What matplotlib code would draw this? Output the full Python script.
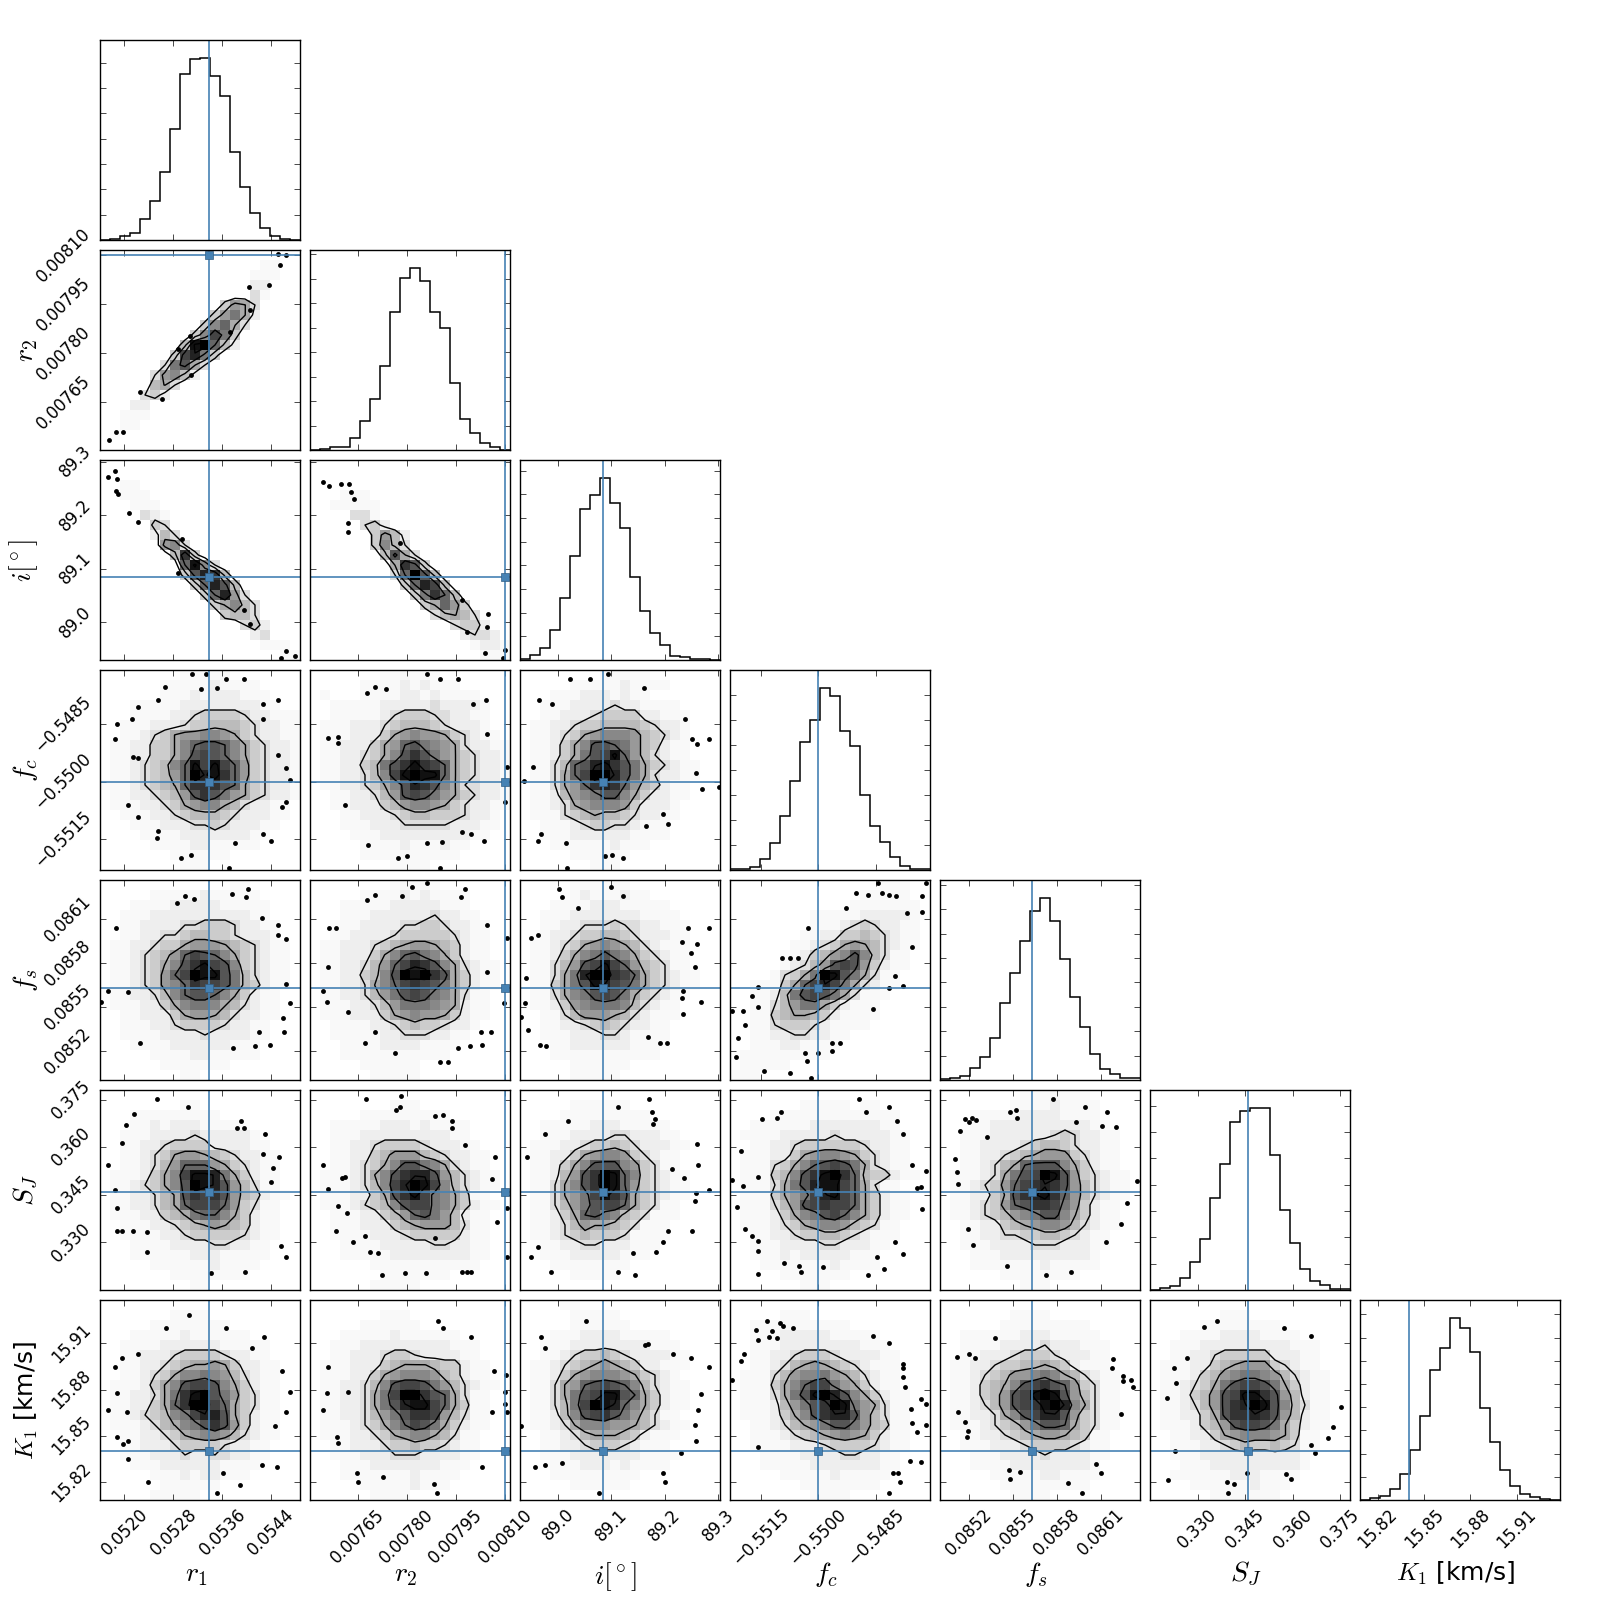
import matplotlib
matplotlib.use("Agg")
import matplotlib.pyplot as plt
import numpy as np

plt.rcParams["mathtext.fontset"] = "cm"
plt.rcParams["font.family"] = "DejaVu Sans"

labels = [r"$r_1$", r"$r_2$", r"$i[^\circ]$", r"$f_c$", r"$f_s$", r"$S_J$", r"$K_1$ [km/s]"]
label_size = [20, 20, 20, 20, 20, 20, 18]
ranges = [(0.05160, 0.05487), (0.007505, 0.008115), (88.929, 89.3035), (-0.5523, -0.5471),
          (0.08500, 0.08637), (0.315, 0.378), (15.8086, 15.938)]
truths = [0.05339, 0.00810, 89.084, -0.5500, 0.08563, 0.3459, 15.84]

tick_vals = [[0.0520, 0.0528, 0.0536, 0.0544],
             [0.00765, 0.00780, 0.00795, 0.00810],
             [89.0, 89.1, 89.2, 89.3],
             [-0.5515, -0.5500, -0.5485],
             [0.0852, 0.0855, 0.0858, 0.0861],
             [0.330, 0.345, 0.360, 0.375],
             [15.82, 15.85, 15.88, 15.91]]
tick_text = [["0.0520", "0.0528", "0.0536", "0.0544"],
             ["0.00765", "0.00780", "0.00795", "0.00810"],
             ["89.0", "89.1", "89.2", "89.3"],
             ["\u22120.5515", "\u22120.5500", "\u22120.5485"],
             ["0.0852", "0.0855", "0.0858", "0.0861"],
             ["0.330", "0.345", "0.360", "0.375"],
             ["15.82", "15.85", "15.88", "15.91"]]

# 1d histograms, 20 bins, height in percent of the panel
hist_r1 = [.2, .3, 1.8, 3.3, 10.3, 19.5, 33.8, 55.5, 83.2, 90.5, 91, 81.8, 72.2, 43.8, 26.3, 13.3, 6, 2, .7, .2]
hist_r2 = [0, .3, 1.3, 1.7, 6, 14.5, 25.5, 42, 69, 86, 91, 84.5, 69, 61, 33.7, 15.5, 8.7, 3.7, 1.3, 0]
hist_i = [.3, 2.3, 6.2, 14.8, 31.2, 52.2, 75.7, 82.7, 91, 78.3, 66, 41.5, 24.5, 13.5, 7.5, 2.2, 1.3, .5, .3, .2]
hist_fc = [.3, .7, 1.7, 5.3, 13.7, 27, 44.7, 64.2, 74.8, 91, 87.2, 69.5, 62.2, 37.7, 22, 14, 6.7, 2.2, .7, .3]
hist_fs = [.3, 1, 2, 6.2, 11.7, 20.8, 38.7, 53.5, 69.5, 84.7, 91, 79.3, 60.3, 41.3, 26.7, 13, 5.7, 2.8, 1, .8]
hist_sj = [0, .8, 1.8, 6.2, 14, 25.3, 45.8, 63, 83.8, 89.3, 91, 91, 67.5, 40, 23.3, 10.7, 4.5, 2.3, .3, .3]
hist_k1 = [.2, .8, 2.2, 5.3, 13, 24.8, 41.8, 64.8, 76.2, 91, 86, 74, 45.8, 29.2, 14.8, 7.2, 2.8, 1.3, .3, .2]
hists = [hist_r1, hist_r2, hist_i, hist_fc, hist_fs, hist_sj, hist_k1]
hist_step = [12.67, 12.25, 11.83, 12.5, 12.2, 13.17, 11.6]

# 2d histograms: 20 rows top to bottom, 20 columns. . is empty, "," is barely there, else hex shade
grid_r2_r1 = ["..... ..... ..... .....", "..... ..... ..... .,,..", "..... ..... ..... ,,,..",
              "..... ..... ..... 11...", "..... ..... ..... 2,...", "..... ..... ..365 2....",
              "..... ..... .3685 1....", "..... ..... 37952 .....", "..... ....3 7b83. .....",
              "..... ...4e f9410 .....", "..... ..3bd 83... .....", "..... .28a5 2.... .....",
              "..... 26741 ..... .....", "..... 452.. ..... .....", "....2 31... ..... .....",
              "...11 ..... ..... .....", "..,,, ..... ..... .....", "..,,. ..... ..... .....",
              ".,... ..... ..... .....", "..... ..... ..... ....."]
grid_i_r1 = ["..... ..... ..... .....", "..... ..... ..... .....", "..,,. ..... ..... .....",
             "..,,, ..... ..... .....", "...,, ,.... ..... .....", "....2 1,... ..... .....",
             "..... 32... ..... .....", "..... 142.. ..... .....", "..... .672. ..... .....",
             "..... ..4c3 ..... .....", "..... ...9e 72... .....", "..... ...3a dc4.. .....",
             "..... ....3 9da4. .....", "..... ..... 39d62 .....", "..... ..... .3574 2....",
             "..... ..... ..344 2....", "..... ..... ....2 31...", "..... ..... ..... 12...",
             "..... ..... ..... .,,,.", "..... ..... ..... ...,,"]
grid_i_r2 = ["..... ..... ..... .....", "..... ..... ..... .....", "..... ..... ..... .....",
             "...,, ,.... ..... .....", "..,,, ,,... ..... .....", "....2 2,... ..... .....",
             "..... 231.. ..... .....", "..... .3641 ..... .....", "..... .3742 ..... .....",
             "..... ..4a5 2.... .....", "..... ...5c a3... .....", "..... ...29 fa4.. .....",
             "..... ....3 9db4. .....", "..... ..... 38c94 .....", "..... ..... .3596 3....",
             "..... ..... ..245 42...", "..... ..... ....2 331..", "..... ..... ..... 1221.",
             "..... ..... ..... .,11,", "..... ..... ..... ..,,,"]
grid_fc_r1 = ["..... ...,, ,,,.. .....", "..... .,,,, ,1,,, ,....", "..... .,,,1 ,111, ,,...",
              "...,, ,,,11 11111 1,,..", "...,, ,,112 33332 11,,,", "..,,, 11123 34443 211,,",
              "..,,1 23566 77653 211,,", ".,,11 33579 aa975 3211,", ".,,11 3357a ba975 3211,",
              ".,,12 3479e beb96 3211,", ".,,12 3469f dec96 3211,", ",,,12 3459c cca95 3211,",
              ".,,11 2346a ca865 3211,", ".,,,1 12356 77542 11,,.", "..,,, 11234 44321 11,,.",
              "...,, ,1112 23211 1,,..", "...., ,,,11 11111 ,,...", "..... ,,,,1 1,,,, ,....",
              "..... ..,,, ,,,.. .....", "..... ...,, ,.... ....."]
grid_fc_r2 = ["..... ..,,, ,,,.. .....", "..... ,,,,1 ,1,,, .....", ".,... ,,,,1 1,1,, ,,...",
              "..,,, ,,111 11211 11,..", "..,,, ,,123 33221 1,,..", ".,,,1 11234 44321 11,..",
              ".,,,1 11356 76653 21,,.", ".,,11 13569 a8765 211,,", ".,,11 2357a ca865 3211,",
              ".,,11 348ac ecb95 3211,", ".,,11 247be fee95 3211,", ".,,11 2357a dca75 2211,",
              "..,,1 1246a ba865 3211,", "..,,1 11346 77653 211,,", "...,, 11123 44333 211,.",
              "...,, ,1112 22221 11,,.", "...., ,,111 11111 1,,..", "..... ,,,,1 ,,,1, ,....",
              "..... ,,,,, ,,,,, .....", "..... ...,, ,,... ....."]
grid_fc_i = ["..... ...,, ,,,.. .....", "..... ,,,,, 1,,,, .....", "...,, ,111, 1,,.. .....",
             "..,,, 11112 11,,, ,....", "..,,1 11233 3311, ,,...", ".,,11 23344 44321 1,...",
             ".,,12 35677 76432 1,...", ".,,13 57aa9 86431 ,,...", ".,,13 58abe 96421 ,,...",
             ".,,24 9adec a8532 1,,..", ".,,25 9bffd a8521 1,,..", ".,,25 69cdc 96431 ,,...",
             ".,,14 678aa 75311 ,,...", ".,,12 56777 63111 ,....", ".,,,2 34544 3211, ,....",
             "..,,, 12332 21,,, .....", "..,,, 11111 1,,,, .....", "...,, ,,,,1 ,,,.. .....",
             "..... ,,,,, ,.... .....", "..... ..,,, ..... ....."]
grid_fs_r1 = ["..... ..... ...,, .....", "..... ,,,,, 1,,,, ,....", "...,, ,,111 11,,, ,,...",
              "..,,, 11111 11111 ,,...", "..,,1 11122 33321 1,,..", "..,,1 12234 43321 11,..",
              ".,,11 23356 66543 21,,.", ".,,12 3469b a9753 21,,.", ".,,12 357ac eba73 21,,.",
              ".,,12 369bf eea84 21,,.", ".,,12 3679c bba84 31,,.", ".,,11 2479a a9753 1,,..",
              ".,,,1 13578 87542 1,,..", "..,,1 11356 65421 1,,..", "..,,, 11233 33211 ,,...",
              "..,,, ,1111 21111 ,,...", "...,, ,,111 111,, ,....", "..... ,,,,1 1,,,, ,....",
              "..... .,,,, ,,,.. .....", "..... ...,, ..... ....."]
grid_fs_r2 = ["..... ...,, ,,,.. .....", "..... ,,,,1 ,1,,, ,....", "...,, ,,,11 111,, ,....",
              "...,, ,1111 11211 ,,...", "..,,, 11112 23321 1,,..", "..,,1 11123 33332 1,,..",
              ".,,11 12345 66543 1,,..", ".,,11 13579 a8753 1,,..", ".,,11 2469b dca75 21,,.",
              ".,,11 347af efca5 31,,.", ".,,11 2579b cba85 31,,.", ".,,11 2468a ba875 2,,..",
              ".,,,1 12468 88765 1,,..", ".,,,1 11356 76653 1,,..", "..,,, ,1123 43321 1,...",
              "..,,, ,,112 2211, ,....", "...,, ,,111 1,,,, .....", "...,, ,,,,, ,,,,. .....",
              "..... ,,,,, ,.... .....", "..... .,,,, ,.... ....."]
grid_fs_i = ["...,. ,,,,, ,.... .....", "..... ,1,,, 1,,.. .....", "...,, ,,111 ,,,,, .....",
             "..,,, 11111 11,,, ,....", "..,,1 12223 2211, ,,...", ".,,11 23344 32111 ,,...",
             ".,,12 35676 5421, ,,...", ".,,13 578a8 75321 ,,...", ".,,24 6abeb 96432 ,,...",
             ".,,25 8dffc b9532 1,,..", ".,,35 8aedb a8532 1,,..", ".,,25 78aba 85321 ,,...",
             ".,,13 67888 7421, ,....", "..,,2 46665 421,, ,....", "..,,1 12343 211,, .....",
             "..,,, 11122 1,,,, .....", "...,, 11111 1,,,, .....", "...,, ,,,,, ,,,,. .....",
             "..... ,,,,, ,.... .....", "..... ,,,,, ..... ....."]
grid_fs_fc = ["..... ..... ..... ,,,..", "..... ..... ...,, ,,,..", "..... ..... ..,,, ,,,,.",
              "..... ...,, ,,,11 111,.", "..... ...,, ,1232 11,,.", "..... ..,,1 13343 21,,.",
              "..... .,,12 35654 21,,.", "..... ,,134 67a74 2,,..", "..... ,1246 aba63 1,,..",
              "...., 2358f ea852 ,,...", "..,,, 359bd b8521 ,,...", "..,,1 48aba 852,, ,....",
              "..,,2 46885 31,,, .....", "..,,3 45543 1,,,, .....", "..,,2 33321 ,,,,. .....",
              "..,,1 12211 ,,... .....", "..,,, 11,,, ,.... .....", ".,,,, ,,,,, ..... .....",
              ".,,,, ,.... ..... .....", ",,,.. ..... ..... ....."]
grid_sj_r1 = ["..... ..... ..... .....", "..... ...,, ..... .....", "...,, ,,,,, ,,... .....",
              "...,, 1,111 ,,,,, .....", "..,,, 11112 11111 ,....", "..,,1 12333 31111 ,,...",
              "..,,1 23566 54321 1,,..", "..,,1 24699 96532 1,,..", ".,,,1 357be ed853 1,,..",
              ".,,12 357af eda64 2,,..", ".,,11 245ac bca64 31,,.", ".,,11 2459b bb963 2,,..",
              ".,,,1 13458 99753 1,,..", "..,,, 11234 56543 1,,..", "..,,, ,1123 33332 1,,..",
              "...,, ,,111 12211 ,,...", "...,, ,,,,1 11,,, ,,...", "..... ,,,,, ,1,,, ,....",
              "..... ..,,, ,,,,, .....", "..... ...., ,.... ....."]
grid_sj_r2 = ["..... ..... ..... .....", "..... ...,, ,.... .....", "..... ,,,,, ,,,,. .....",
              "..,,, ,,111 ,1,,, ,....", "..,,, 11111 1111, ,....", "..,,1 12333 32111 ,,...",
              "..,,1 13466 64321 1,,..", "..,,1 2357a a8752 1,,..", ".,,,1 257ac dda64 21,,.",
              ".,,,1 247bd feb74 21,,.", ".,,,1 135ac eb875 3,,..", ".,,,1 2347a bb875 31,,.",
              "..,,, 11346 9a864 1,,..", "..,,, 11134 56664 2,,..", "..,,, ,1112 33333 1,,..",
              "...,, ,,111 11221 1,,..", "...,, ,,,11 11111 1,,..", "..... .,,,, ,,,,, ,,...",
              "..... ..,,, ,,,,. .....", "..... .,,,, ,.... ....."]
grid_sj_i = ["..... ..... ..... .....", "..... ,,,,, ,.... .....", "...., ,,,,, ,,,.. .....",
             "..,,, ,,111 ,,,,, .....", "..,,, 11112 2111, ,....", ".,,,1 12334 32111 ,,...",
             ".,,11 35677 6321, ,....", ".,,13 57aaa 7632, ,....", ".,,14 6acfe 97321 ,,...",
             ".,,25 7acfe 96321 ,,...", ".,,25 68bec a5321 ,,...", ".,,24 68abb 9532, ,....",
             ".,,13 59a87 432,, ,....", ".,,12 46554 32,,, .....", ".,,12 34333 2,,,, .....",
             "..,,1 12211 1,,,. .....", "..,,, 11111 ,,,.. .....", "...,, ,,,,, ,.... .....",
             "..... ,,,,, ..... .....", "..... ..... ..... ....."]
grid_sj_fc = ["..... ..... ..... .....", "..... ..,,, ,,.,, .....", "...., ,,,,, ,,,,, ,,...",
              "..,,, ,,,11 11111 ,,...", ".,,,, 11111 21111 1,,..", "..,,1 12333 33321 1,,..",
              ".,,,1 13567 76532 1,,..", ".,,,2 3579a ba852 1,,..", ".,,,3 47ace fc943 31,,.",
              ".,,,2 58ade eb952 ,,...", ".,,,3 568bd eb953 1,,..", ".,,,2 46abc bb953 1,,..",
              ".,,,1 3578a b9753 1,,..", ".,,,1 23567 76432 ,,...", "..,,1 12334 4321, ,,...",
              "..,,, 11112 2111, ,....", "..,,, 1,111 11,,, .....", "...,, ,,,,, 1,,,, .....",
              "..... ,,,,, ,,... .....", "..... ..,,, ..... ....."]
grid_sj_fs = ["..... ...,, ,,,,, .....", "..... ..,,, ,1,,, ,....", "...,, ,,,11 11,,, ,....",
              "...,, 11111 11111 ,,...", "..,,, 11111 12321 1,,..", "..,,1 11123 44321 1,,..",
              "..,,1 12345 66632 1,,..", "..,,1 2459a aa753 1,,..", ".,,,1 258ab fea63 21,,.",
              ".,,12 369bc dca64 21,,.", ".,,11 35acd ec964 21,,.", ".,,12 369ac cb863 1,,..",
              ".,,12 34678 aa753 1,,..", "..,,1 13456 77642 1,,..", "..,,1 12233 44321 ,,...",
              "..,,, 11112 22111 ,,...", "...,, ,1111 11111 ,....", "...,, ,,,,, 1,,,, ,....",
              "..... .,,,, ,,,,. .....", "..... ...,, ,.... ....."]
grid_k1_r1 = ["..... ..... ..... .....", "..... ..,,, ,.... .....", "..... ,,,,, ,,,.. .....",
              "...,, ,,,1, ,,,,, .....", "..,,, ,1111 11,,, ,,...", "..,,1 11233 33211 ,,...",
              "..,,1 12345 56531 1,,..", "..,,1 23577 87642 1,,..", ".,,,1 357ab ba753 1,,..",
              ".,,11 258ce fa863 2,,..", ".,,11 359cf fb953 2,,..", ".,,12 3478b dda53 1,,..",
              ".,,,1 24578 aca63 1,,..", "..,,1 12356 77642 1,,..", "..,,1 11233 33211 ,,...",
              "..,,, 11121 12211 ,,...", "...,, ,1111 11,,, ,....", "..... ,,,1, 11,,, .....",
              "..... .,,,, ,,... .....", "..... ,,,,, ..... ....."]
grid_k1_r2 = ["..... ..... ..... .....", "..... ..,,, ..... .....", "..... ,,,,, ,.... .....",
              "...,, ,,,1, ,,,,, .....", "..,,, 11111 1111, ,,...", "..,,1 11233 21111 ,,...",
              ".,,,1 11345 55433 1,,..", ".,,,1 13567 77643 1,,..", ".,,11 247ab ba864 21,,.",
              ".,,11 258bf fca95 2,,..", ".,,11 258ad eeb95 3,,..", ".,,11 2468a ccb64 2,,..",
              ".,,,1 23579 ba853 1,,..", ".,,,1 12356 77542 ,,...", "..,,1 11233 43321 ,,...",
              "..,,, 11122 21111 ,,...", "...,, ,1111 111,, ,....", "...,, ,,,,, 1,,,, .....",
              "..... ,,,,, 1,,,. .....", "..... .,,,, ..... ....."]
grid_k1_i = ["...., ,.... ..... .....", "..... ,,,,, ..... .....", "..... ,,,,, ,.... .....",
             "...,, ,1111 ,,,,, .....", "..,,, 11111 111,, ,....", "..,,1 23343 21111 ,,...",
             ".,,12 34565 4311, ,,...", ".,,13 56777 65321 ,....", ".,,25 69aba 97421 ,,...",
             ".,,25 8abee a9531 ,,...", ".,,24 8bfed 97531 ,,...", ".,,14 7abca 8642, ,....",
             ".,,12 57776 65421 ,,...", "..,,1 24555 431,, ,....", "..,,1 12333 21,,, .....",
             "..,,, 11111 11,,, ,....", "...,, ,111, 1,,,, .....", "...,, ,,,,, ,,... .....",
             "..... ,,,,, ,.... .....", "..... ..... ..... ....."]
grid_k1_fc = ["..... ..... ..... .....", "..... ,,,.. ..... .....", "..,,, ,,,,, ,,... .....",
              "..,,, 11111 ,,,,, .....", "..,,, 11111 111,, ,....", "..,,1 12333 21111 ,,...",
              "..,,1 24565 4321, ,,...", ".,,,2 46778 65421 ,,...", ".,,,3 579bb 86531 ,,...",
              ".,,,2 58aef da753 1,,..", ".,,,1 468ac fe865 2,,..", ".,,,1 357ac dda64 2,,..",
              "..,,1 24568 aa864 3,,..", "..,,, 12345 67653 1,,..", "..,,, ,1112 33332 1,,..",
              "...,, ,,111 12211 ,,...", "...,, ,,,11 11111 ,,...", "..... ,,,,, 1,,,, ,....",
              "..... ..,,, ,,,,, .....", "..... ...,, ,,... ....."]
grid_k1_fs = ["..... ..... ..... .....", "..... ..,,, ,.... .....", "..... .,,,, ,,,,, .....",
              "..,,, ,,,11 1,,,, ,....", "..,,, ,1111 2111, ,,...", "..,,1 11233 32111 ,,...",
              ".,,11 23344 5431, ,,...", ".,,12 34667 87542 1,,..", ".,,13 457ab ca963 2,,..",
              ".,,13 46abe fea64 2,,..", ".,,12 46abc efd75 2,,..", ".,,11 257ab dda63 2,,..",
              ".,,,1 23468 aa953 2,,..", "..,,1 12345 66543 ,,...", "..,,, 11123 33321 ,,...",
              "...,, ,1111 21111 ,,...", "...,, ,,111 11111 ,....", "..... ,,,,, 11,,, ,....",
              "..... .,,,, ,,,,, .....", "..... ..,,, ,.... ....."]
grid_k1_sj = ["..... ..... ..... .....", "..... ..,,, ..... .....", "..... ,,,,, ,,,.. .....",
              "...,, ,,111 1,,,, .....", "..,,, 11111 1111, ,,...", "..,,1 12333 33111 ,,...",
              ".,,,1 13456 66321 ,,...", ".,,,1 34678 87642 1,,..", ".,,12 358ab ba853 1,,..",
              ".,,13 46abe eca64 1,,..", ".,,12 46acd fea74 2,,..", ".,,11 35acc dca64 1,,..",
              ".,,,1 346ab ba853 1,,..", "..,,1 13567 77653 ,,...", "..,,, 11234 33432 ,,...",
              "..,,, 11111 11111 ,....", "...,, ,1111 11111 ,....", "..,,, ,,,11 1,,,, .....",
              "...., ,,,,, 1,,,. .....", "..... .,,,, ,,,.. ....."]

# outlying samples, in (column, row) of the same 20x20 grid
pts_fc_r1 = [(9.2, .4), (10.6, .4), (12.6, .9), (14.4, .9), (6.5, 1.7), (10.1, 1.9), (11.7, 1.8), (5.8, 3), (3.8, 3.7),
             (16.3, 3.4), (17.8, 3), (1.7, 5.4), (3.2, 4.9), (16.3, 4.9), (1.5, 6.9), (3.8, 8.8), (3.3, 8.7), (17.8, 8.5),
             (18.6, 9.8), (19, 11), (2.8, 13.5), (18.6, 13.2), (18.2, 13.7), (3.8, 14.7), (5.8, 16.1), (5.7, 16.8),
             (16.3, 16.4), (17.1, 17.1), (13.5, 17.3), (9.1, 18.5), (8.1, 18.8), (12.9, 19.8)]
pts_fc_r2 = [(11.7, .4), (13, .9), (14.8, .9), (6.5, 1.7), (7.6, 1.9), (5.7, 2.3), (17.6, 3), (16.3, 3.4), (1.8, 6.8),
             (2.8, 6.7), (2.8, 7.3), (17.7, 6.4), (3.5, 13.5), (19.7, 9.7), (19.5, 13.2), (15.2, 16.2), (16.1, 16.4),
             (17.4, 17.1), (11.7, 17.3), (13.2, 17.2), (8.8, 18.8), (9.7, 18.6), (13, 19.8), (5.8, 17.5)]
pts_fc_i = [(5, .9), (7, .9), (8.8, .4), (12.4, 1.8), (1.9, 3), (3.2, 3.4), (16.5, 4.9), (17.2, 6.9), (17.7, 7.4),
            (18.9, 6.9), (1.3, 9.7), (17.6, 10.3), (.4, 11.1), (18.2, 11.9), (14.3, 14.4), (14.8, 15.4), (12.6, 15.6),
            (2.1, 16.4), (1.8, 17.1), (4.6, 17.3), (8.5, 18.6), (9.2, 18.5), (10.3, 18.8), (4.7, 19.8), (19.9, 11.7)]
pts_fs_r1 = [(8.5, 1.6), (9.4, 1.9), (14.8, .9), (13.2, 1.4), (14.6, 1.7), (7.7, 2.3), (1.6, 4.8), (16.2, 3.8), (17.8, 4.5),
             (17.8, 5.5), (18.6, 5.9), (.8, 11.1), (2.8, 11.2), (18.6, 10.4), (.1, 12.2), (19, 12.3), (18.3, 13.8),
             (18.4, 15.2), (15.9, 15.2), (4, 16.3), (13.3, 16.8), (15.5, 16.6), (17, 16.5)]
pts_fs_r2 = [(10.2, .7), (11.7, .3), (15.5, .9), (5.7, 2), (6.5, 1.5), (9.2, 1.6), (15.1, 1.7), (1.9, 4.8), (2.6, 4.8),
             (17.7, 4.5), (1.8, 8.7), (19.7, 5.8), (17.7, 9.2), (1.3, 11.1), (1.7, 12.2), (19.4, 12.3), (3.8, 13.2),
             (6.5, 15.2), (5.5, 16.3), (17.2, 16.5), (14.8, 16.8), (16, 16.6), (8.5, 17.3), (13, 18.2), (13.8, 18.2),
             (17.1, 15.2), (18.1, 15.2)]
pts_fs_i = [(3.9, .9), (4.2, 1.7), (9.1, .7), (10.3, 1.6), (5.8, 2.8), (1.1, 5.8), (1.8, 5.5), (16.8, 4.8), (18.9, 4.8),
            (16.2, 6.2), (17.7, 6.4), (17.1, 7.3), (17.5, 8.7), (.6, 9.8), (16.3, 11.1), (.5, 12.3), (16.2, 11.8),
            (18.1, 12.2), (.1, 13.7), (16.3, 13.4), (.8, 15), (12.8, 15.7), (14, 16.3), (14.7, 16.3), (2, 16.5), (2.6, 16.6)]
pts_fs_fc = [(14.8, .3), (19.6, .3), (12.6, 1.3), (13.8, 1.5), (15.2, 1.3), (15.9, 1.5), (16.6, 1.6), (19.2, 1.6),
             (11.6, 2.8), (17.7, 3.3), (19.2, 3.2), (18.2, 6.7), (7.8, 4.8), (5.2, 7.8), (6, 7.8), (6.8, 7.8), (16.5, 9.6),
             (17.3, 10.6), (15.9, 10.8), (2.8, 10.7), (2.2, 11.6), (2.8, 12.7), (.2, 13.1), (1.3, 13.1), (1.5, 14.5),
             (.8, 15.8), (14.3, 12.9), (10.2, 16.3), (11, 16.3), (10.2, 17.1), (7.5, 17.3), (8.8, 17.3), (7.7, 18.1),
             (.6, 17.7), (6, 19.3), (3.4, 19.1), (8.1, 19.8)]
pts_sj_r1 = [(5.7, .9), (8.8, 1.7), (3.4, 2.4), (2.6, 3.5), (2.2, 5.3), (.8, 7.5), (14.1, 3.1), (13.7, 3.8), (14.4, 3.8),
             (16.5, 4.4), (16.3, 6.4), (17.9, 6.7), (17.3, 7.8), (17.1, 9.2), (1.7, 14.1), (2.2, 14.1), (3.3, 14.1),
             (4.7, 14.2), (1.7, 11.8), (4.7, 16.2), (18.1, 15.6), (18.6, 16.7), (11.1, 18.3), (14.5, 18.2), (1.5, 10)]
pts_sj_r2 = [(5.6, .9), (9.1, .6), (9, 1.7), (8.6, 2), (12.5, 2.6), (13.3, 2.5), (14.2, 3.1), (14.2, 3.8), (15.5, 5.5),
             (18.5, 6.7), (1.3, 7.5), (3.5, 8.7), (3.2, 8.8), (1.8, 9.9), (2.8, 11.6), (3.7, 12.3), (18.2, 8.9), (19.7, 11.8),
             (18.7, 13.2), (2.6, 14.1), (5.5, 14.6), (4.3, 15.2), (6, 16.2), (6.8, 16.3), (7.2, 18.5), (9.5, 18.3),
             (11.6, 18.3), (15.2, 18.2), (15.7, 18.2), (16.1, 18.2), (19.7, 16.7), (12.5, 14.8)]
pts_sj_i = [(12.9, .9), (9.8, 1.7), (13.2, 2.2), (4.8, 3.1), (13.5, 2.9), (13.3, 3.4), (2.5, 4.4), (.7, 6.7), (17.7, 5.4),
            (17.8, 7.5), (15.2, 7.9), (16.4, 8.8), (18.9, 10), (17.6, 10.3), (17.5, 11.1), (14.8, 14.1), (17.2, 14.1),
            (14.3, 15.2), (1.8, 15.7), (1.1, 16.7), (13.6, 16.2), (11.3, 16.3), (3.1, 18.2), (11.5, 18.5), (9.8, 18.2)]
pts_sj_fc = [(12.9, .9), (15.9, 1.7), (13.6, 2.2), (5.1, 2.2), (3.2, 2.9), (4.7, 2.8), (16.7, 3.1), (17.3, 4.4), (1.1, 6.1),
             (18.2, 7.5), (19.6, 8.1), (2.8, 8.7), (.2, 9), (1.3, 9.6), (18.7, 9.8), (19.1, 9.7), (.7, 11.7), (19.2, 11.9),
             (1.5, 13.9), (2.2, 14.6), (2.8, 15.1), (2.8, 16.1), (16.5, 15.2), (17.3, 16.4), (5.4, 17.3), (6.9, 17.6),
             (7.1, 18.2), (9.3, 17.7), (15.4, 17.9), (13.8, 18.5), (2.8, 18.4), (14.7, 16.7)]
pts_sj_fs = [(11.3, .9), (14.5, 1.7), (7.6, 2), (7, 2.2), (16.7, 2.2), (2.5, 2.9), (3.2, 2.8), (2.9, 3.2), (3.6, 3),
             (7.7, 2.8), (16.2, 3.6), (17.6, 3.7), (2, 4.1), (4.7, 4.7), (1.5, 6.9), (1.7, 8.2), (19.7, 9.1), (1.8, 9.4),
             (18.7, 11.3), (18.1, 13.4), (2.8, 13.9), (3.3, 15.5), (16.6, 15.2), (6.7, 17.6), (10.6, 18.5), (13.1, 18.2),
             (13.6, 3.2)]
pts_k1_r1 = [(6.6, 2.8), (8.9, 1.5), (12.6, 2.8), (16.4, 3.7), (3.8, 5.4), (2.2, 5.8), (15.2, 4.8), (1.5, 6.7), (18.2, 7.1),
             (19, 9.2), (1.7, 9.3), (.8, 11), (2.7, 11.2), (18.6, 11.2), (17.5, 12.6), (1.7, 13.7), (2.3, 14.4), (2.8, 14.1),
             (17.7, 16.7), (2.8, 15.9), (16.2, 16.5), (4.8, 18.2), (12.3, 17.3), (14, 18.5), (11.7, 19.3)]
pts_k1_r2 = [(12.8, 2.1), (13.3, 2.8), (1.8, 6.7), (3.8, 9.2), (1.7, 9.3), (1.3, 11), (2.7, 13.7), (2.8, 14.3), (18.4, 7.1),
             (19.5, 9.2), (19.5, 10.4), (18.2, 11.2), (19.6, 7.5), (19.7, 11.2), (17.2, 16.7), (4.7, 17.3), (7.3, 17.7),
             (4.8, 18.2), (12.4, 18.4), (12.7, 19.3), (16.1, 3.7)]
pts_k1_i = [(6.6, 2.1), (2.1, 3.7), (2.5, 4.8), (15.3, 5.4), (17.1, 5.8), (18.9, 6.7), (18.1, 9.4), (17.8, 11), (.1, 12.6),
            (17.5, 12.5), (17.6, 14.1), (16.1, 15.3), (1.5, 16.7), (2.5, 16.5), (4.2, 16.3), (14.3, 17.3), (14.5, 18.2),
            (7.9, 19.3), (12.5, 4.5), (12.8, 4.4)]
pts_k1_fc = [(3.7, 2.1), (5, 2.3), (5.3, 2.6), (2.6, 3), (4.2, 3.1), (6.3, 2.8), (2.8, 4), (3.9, 3.7), (4.7, 3.8), (14.3, 3.6),
             (15.9, 4.3), (1.4, 5.4), (1.1, 6.1), (17.3, 6.4), (17.3, 6.8), (17.3, 7.7), (17.5, 8.7), (.2, 8), (19.1, 9.9),
             (19.6, 10.4), (18.1, 10.9), (18.2, 12.3), (19.6, 12.5), (18.7, 13.2), (2.8, 14.7), (18, 16.1), (19.1, 16.2),
             (16.3, 17.3), (16.8, 17.3), (17, 18.2), (15.9, 19.3)]
pts_k1_fs = [(5.5, 3.8), (1.7, 5.7), (2.9, 5.4), (3.5, 5.8), (17.3, 5.9), (17.2, 6.8), (18.3, 7.6), (19.1, 8), (18.3, 8.1),
             (19.3, 8.7), (1.8, 11.2), (2.5, 12.2), (2.8, 13.1), (2.7, 13.7), (18.1, 11.4), (15.6, 16.4), (16.1, 17.3),
             (8, 17.2), (6.9, 17), (12.8, 18.3), (14.2, 19.3), (7, 17.9)]
pts_k1_sj = [(6.7, 2.1), (5.4, 2.7), (3.7, 5.8), (2.4, 6.8), (2.6, 8.3), (1.7, 9.8), (13.4, 2.8), (16.1, 3.6), (19.1, 10.7),
             (18.3, 12.7), (17.8, 13.8), (16.5, 15.3), (16.1, 14.5), (2.5, 15.1), (13.6, 17.4), (14.1, 17.9), (7.7, 18.2),
             (8.4, 18.4), (7.8, 19.3), (9.7, 17.3), (1.8, 18)]
pts_r2_r1 = [(18, 1.5), (17.8, .4), (18.6, .5), (16.9, 3.5), (14.9, 3.7), (15, 6), (9, 8.6), (7.8, 9.9), (13, 8.2), (9.1, 12.5),
             (6.2, 14.9), (4, 14.2), (1.6, 18.2), (2.3, 18.2), (.9, 19)]
pts_i_r1 = [(1.5, 1.1), (.8, 1.7), (1.7, 1.9), (1.6, 3.1), (1.8, 3.4), (2.9, 5.3), (3.8, 6.2), (8.2, 7.9), (7.8, 11.3),
            (15, 16.4), (14.4, 15), (18.6, 19.1), (18.1, 19.8), (19.5, 19.6)]
pts_i_r2 = [(1.3, 2.2), (1.9, 2.6), (3.1, 2.4), (3.9, 2.4), (4.1, 3.2), (4.4, 3.9), (3.8, 6.3), (3.8, 7.2), (9, 8.3), (15.2, 14),
            (17.8, 15.4), (15.7, 17.2), (17.7, 16.7), (17.5, 19.3), (19.5, 19), (19.3, 19.8)]

panels = {(1, 0): (grid_r2_r1, pts_r2_r1), (2, 0): (grid_i_r1, pts_i_r1), (2, 1): (grid_i_r2, pts_i_r2),
          (3, 0): (grid_fc_r1, pts_fc_r1), (3, 1): (grid_fc_r2, pts_fc_r2), (3, 2): (grid_fc_i, pts_fc_i),
          (4, 0): (grid_fs_r1, pts_fs_r1), (4, 1): (grid_fs_r2, pts_fs_r2), (4, 2): (grid_fs_i, pts_fs_i),
          (4, 3): (grid_fs_fc, pts_fs_fc), (5, 0): (grid_sj_r1, pts_sj_r1), (5, 1): (grid_sj_r2, pts_sj_r2),
          (5, 2): (grid_sj_i, pts_sj_i), (5, 3): (grid_sj_fc, pts_sj_fc), (5, 4): (grid_sj_fs, pts_sj_fs),
          (6, 0): (grid_k1_r1, pts_k1_r1), (6, 1): (grid_k1_r2, pts_k1_r2), (6, 2): (grid_k1_i, pts_k1_i),
          (6, 3): (grid_k1_fc, pts_k1_fc), (6, 4): (grid_k1_fs, pts_k1_fs), (6, 5): (grid_k1_sj, pts_k1_sj)}


def read_grid(rows):
    out = []
    for r in rows:
        r = r.replace(" ", "").ljust(20, ".")[:20]
        out.append([0 if c == "." else 0.4 if c == "," else int(c, 16) for c in r])
    return np.array(out, dtype=float)[::-1]


def style(ax, row, col):
    ax.tick_params(direction="in", length=4, width=0.5, top=True, right=True, labelsize=12, pad=4)
    for s in ax.spines.values():
        s.set_linewidth(1)
    ax.set_xlim(ranges[col])
    ax.set_xticks(tick_vals[col])
    if row == 6:
        ax.set_xticklabels(tick_text[col], rotation=45)
        ax.set_xlabel(labels[col], fontsize=label_size[col])
        ax.xaxis.set_label_coords(0.48, -0.3)
    else:
        ax.set_xticklabels([])


fig = plt.figure(figsize=(16, 16), dpi=100, facecolor="white")
blue = "#4682b4"
for n in range(7):
    for m in range(n + 1):
        ax = fig.add_axes([(100 + 210 * m) / 1600, 1 - (240 + 210 * n) / 1600, 200 / 1600, 200 / 1600])
        style(ax, n, m)
        xe = np.linspace(ranges[m][0], ranges[m][1], 21)
        if n == m:
            ax.stairs(hists[n], xe, color="k", lw=1.1, baseline=None)
            ax.axvline(truths[n], color=blue, lw=1.2)
            ax.set_ylim(0, 100)
            ax.set_yticks(np.arange(hist_step[n], 100, hist_step[n]))
            ax.set_yticklabels([])
            continue
        ye = np.linspace(ranges[n][0], ranges[n][1], 21)
        grid, pts = panels[(n, m)]
        H = read_grid(grid)
        ax.pcolormesh(xe, ye, H, cmap="gray_r", vmin=0, vmax=15, linewidth=0, rasterized=True)
        ax.contour((xe[:-1] + xe[1:]) / 2, (ye[:-1] + ye[1:]) / 2, H, levels=[2, 4.9, 9, 13.2],
                   colors="k", linewidths=1.0)
        px = np.interp([p[0] for p in pts], np.arange(21), xe)
        py = np.interp([20 - p[1] for p in pts], np.arange(21), ye)
        ax.plot(px, py, "o", color="k", ms=3.5, mew=0)
        ax.axvline(truths[m], color=blue, lw=1.2)
        ax.axhline(truths[n], color=blue, lw=1.2)
        ax.plot(truths[m], truths[n], "s", color=blue, ms=6, mew=0.5, mec="#335f85")
        ax.set_xlim(ranges[m])
        ax.set_ylim(ranges[n])
        ax.set_yticks(tick_vals[n])
        if m == 0:
            ax.set_yticklabels(tick_text[n], rotation=45, va="center")
            ax.set_ylabel(labels[n], fontsize=label_size[n])
            ax.yaxis.set_label_coords(-0.3, 0.5)
        else:
            ax.set_yticklabels([])

fig.savefig("out.png", dpi=100, facecolor="white")
